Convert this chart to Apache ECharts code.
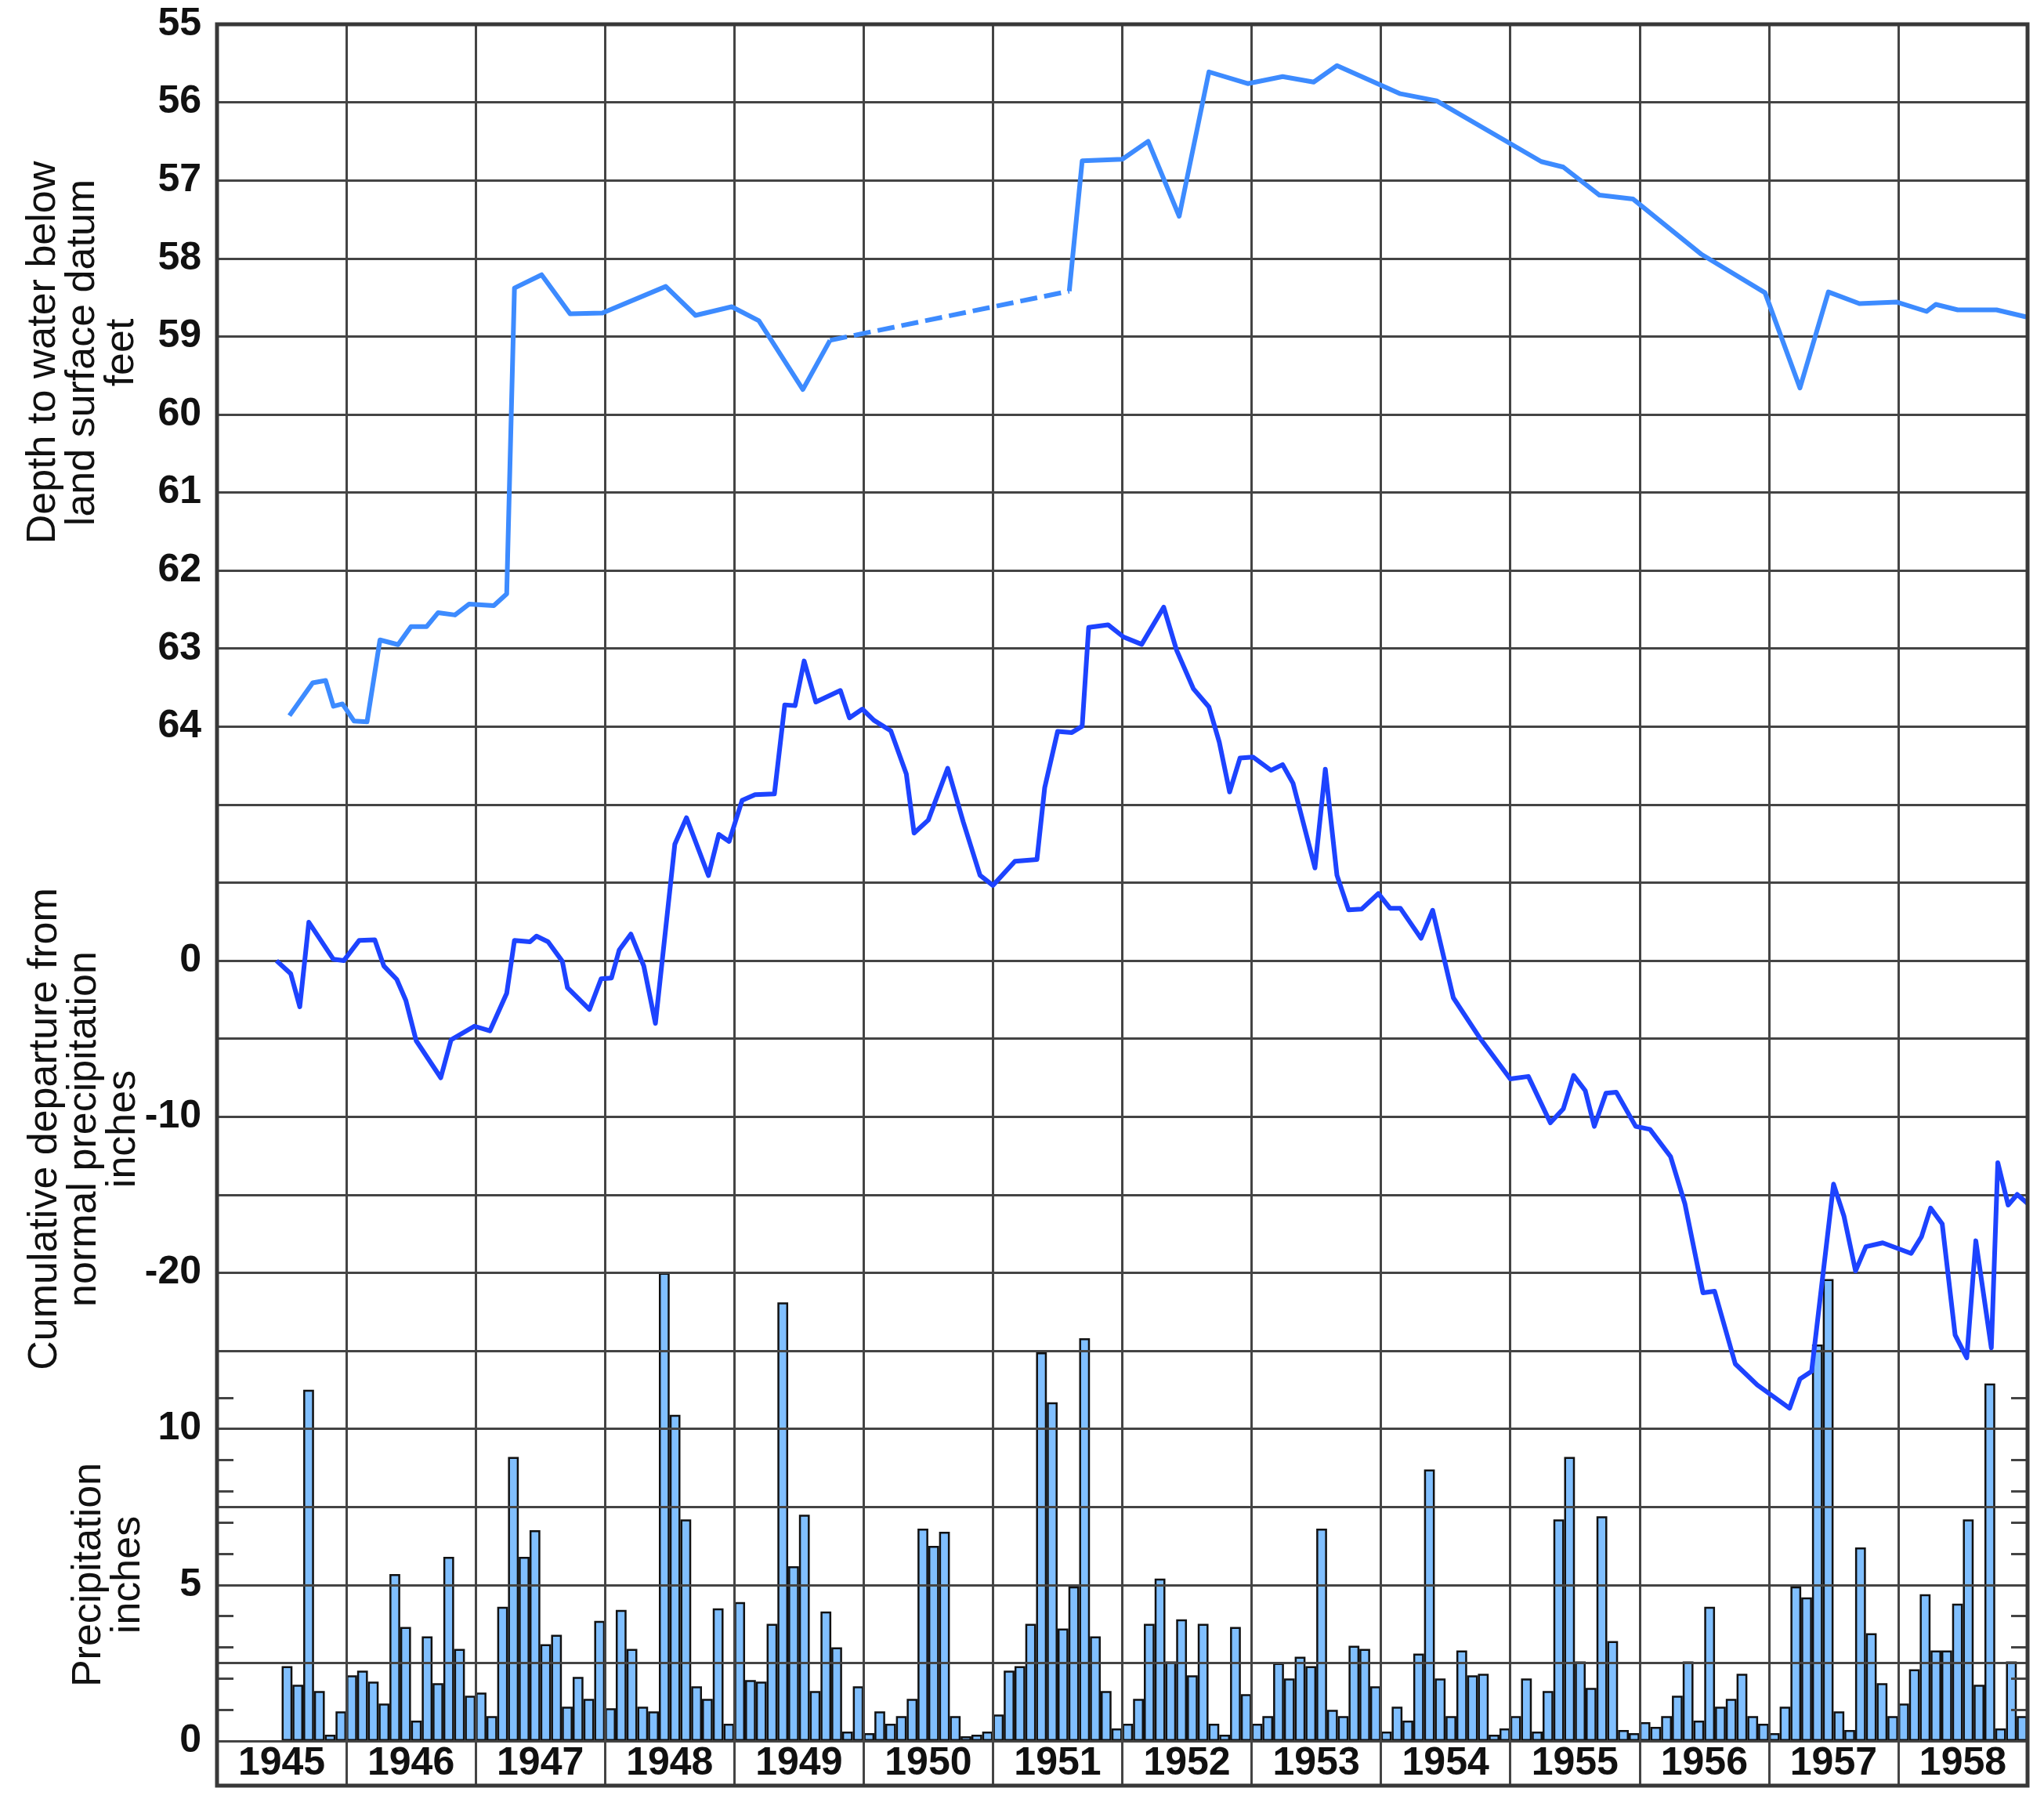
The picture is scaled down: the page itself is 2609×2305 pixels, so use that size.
<!DOCTYPE html>
<html>
<head>
<meta charset="utf-8">
<script src="https://cdn.jsdelivr.net/npm/echarts@6/dist/echarts.min.js"></script>
<style>
html,body{margin:0;padding:0;background:#fff;}
#chart{width:2609px;height:2305px;}
</style>
</head>
<body>
<div id="chart"></div>
<script>
// ---------- data ----------
const yearLabels = ['1945','1946','1947','1948','1949','1950','1951','1952','1953','1954','1955','1956','1957','1958'];
const depthTickLabels = [55,56,57,58,59,60,61,62,63,64];
const departureTickLabels = [0,-10,-20];
const precipTickLabels = [0,5,10];
const precipMinorTicks = [1,2,3,4,6,7,8,9,11];

// depth to water below land surface datum (feet), [decimal year, depth]
const depthMeasuredEarly = [
  [1945.56,63.86],[1945.74,63.44],[1945.84,63.41],[1945.90,63.74],[1945.97,63.71],[1946.06,63.93],
  [1946.16,63.94],[1946.26,62.89],[1946.40,62.95],[1946.50,62.72],[1946.62,62.72],[1946.71,62.54],
  [1946.84,62.57],[1946.95,62.43],[1947.14,62.45],[1947.24,62.30],[1947.30,58.38],[1947.51,58.21],
  [1947.73,58.71],[1947.98,58.70],[1948.47,58.36],[1948.70,58.73],[1948.98,58.62],[1949.19,58.80],
  [1949.53,59.68],[1949.74,59.05]
];
const depthEstimated = [[1949.74,59.05],[1951.59,58.42]];
const depthMeasuredLate = [
  [1951.59,58.42],[1951.69,56.75],[1952.00,56.73],[1952.20,56.50],[1952.44,57.46],[1952.67,55.61],
  [1952.97,55.76],[1953.24,55.67],[1953.48,55.74],[1953.66,55.53],[1954.15,55.89],[1954.43,55.98],
  [1955.24,56.76],[1955.41,56.83],[1955.69,57.19],[1955.95,57.24],[1956.48,57.95],[1956.97,58.44],
  [1957.24,59.66],[1957.46,58.43],[1957.70,58.58],[1957.99,58.56],[1958.22,58.68],[1958.29,58.59],
  [1958.46,58.66],[1958.76,58.66],[1958.99,58.75]
];

// cumulative departure from normal precipitation (inches), [decimal year, inches]
const cumulativeDeparture = [
  [1945.46,0.0],[1945.57,-0.84],[1945.64,-2.95],[1945.71,2.46],[1945.90,0.09],[1945.98,0.0],
  [1946.10,1.30],[1946.22,1.34],[1946.29,-0.34],[1946.39,-1.20],[1946.46,-2.54],[1946.54,-5.13],
  [1946.73,-7.5],[1946.81,-5.07],[1946.99,-4.2],[1947.11,-4.5],[1947.24,-2.09],[1947.30,1.30],
  [1947.42,1.21],[1947.47,1.57],[1947.56,1.21],[1947.67,-0.04],[1947.71,-1.73],[1947.88,-3.13],
  [1947.97,-1.16],[1948.05,-1.11],[1948.11,0.68],[1948.20,1.70],[1948.30,-0.34],[1948.39,-4.02],
  [1948.54,7.46],[1948.63,9.16],[1948.80,5.45],[1948.88,8.09],[1948.96,7.64],[1949.06,10.27],
  [1949.16,10.63],[1949.31,10.68],[1949.39,16.39],[1949.47,16.34],[1949.54,19.20],[1949.63,16.57],
  [1949.82,17.31],[1949.89,15.56],[1949.99,16.12],[1950.08,15.40],[1950.21,14.73],[1950.33,11.97],
  [1950.39,8.18],[1950.50,9.01],[1950.65,12.33],[1950.77,8.90],[1950.90,5.47],[1951.00,4.82],
  [1951.17,6.37],[1951.34,6.48],[1951.40,11.08],[1951.50,14.69],[1951.61,14.62],[1951.69,15.02],
  [1951.74,21.35],[1951.89,21.52],[1952.01,20.74],[1952.15,20.27],[1952.32,22.65],[1952.42,19.89],
  [1952.55,17.42],[1952.67,16.26],[1952.75,14.01],[1952.83,10.81],[1952.91,12.98],[1953.01,13.05],
  [1953.15,12.20],[1953.24,12.56],[1953.32,11.37],[1953.49,5.94],[1953.57,12.27],[1953.66,5.47],
  [1953.75,3.25],[1953.85,3.30],[1953.98,4.30],[1954.07,3.36],[1954.15,3.36],[1954.31,1.43],
  [1954.40,3.23],[1954.56,-2.38],[1954.76,-4.90],[1955.00,-7.58],[1955.14,-7.42],[1955.31,-10.39],
  [1955.41,-9.50],[1955.49,-7.36],[1955.58,-8.33],[1955.65,-10.62],[1955.74,-8.49],[1955.82,-8.43],
  [1955.97,-10.62],[1956.08,-10.81],[1956.24,-12.56],[1956.35,-15.56],[1956.49,-21.28],[1956.58,-21.18],
  [1956.74,-25.84],[1956.91,-27.19],[1957.16,-28.68],[1957.24,-26.80],[1957.33,-26.32],[1957.50,-14.32],
  [1957.58,-16.36],[1957.67,-19.88],[1957.75,-18.33],[1957.88,-18.08],[1958.10,-18.76],[1958.18,-17.69],
  [1958.25,-15.85],[1958.34,-16.86],[1958.44,-23.99],[1958.53,-25.45],[1958.60,-17.95],[1958.72,-24.81],
  [1958.77,-12.95],[1958.85,-15.66],[1958.92,-14.98],[1959.00,-15.56]
];

// monthly precipitation (inches), July 1945 through December 1958
const precip1945 = [2.4,1.8,11.25,1.6,0.2,0.95];
const precip1946 = [2.1,2.25,1.9,1.2,5.35,3.65,0.65,3.35,1.85,5.9,2.95,1.45];
const precip1947 = [1.55,0.8,4.3,9.1,5.9,6.75,3.1,3.4,1.1,2.05,1.35,3.85];
const precip1948 = [1.05,4.2,2.95,1.1,0.95,15.0,10.45,7.1,1.75,1.35,4.25,0.55];
const precip1949 = [4.45,1.95,1.9,3.75,14.05,5.6,7.25,1.6,4.15,3.0,0.3,1.75];
const precip1950 = [0.25,0.95,0.55,0.8,1.35,6.8,6.25,6.7,0.8,0.15,0.2,0.3];
const precip1951 = [0.85,2.25,2.4,3.75,12.45,10.85,3.6,4.95,12.9,3.35,1.6,0.4];
const precip1952 = [0.55,1.35,3.75,5.2,2.55,3.9,2.1,3.75,0.55,0.2,3.65,1.5];
const precip1953 = [0.55,0.8,2.5,2.0,2.7,2.4,6.8,1.0,0.8,3.05,2.95,1.75];
const precip1954 = [0.3,1.1,0.65,2.8,8.7,2.0,0.8,2.9,2.1,2.15,0.2,0.4];
const precip1955 = [0.8,2.0,0.3,1.6,7.1,9.1,2.55,1.7,7.2,3.2,0.35,0.25];
const precip1956 = [0.6,0.45,0.8,1.45,2.55,0.65,4.3,1.1,1.35,2.15,0.8,0.55];
const precip1957 = [0.25,1.1,4.95,4.6,12.7,14.8,0.95,0.35,6.2,3.45,1.85,0.8];
const precip1958 = [1.2,2.3,4.7,2.9,2.9,4.4,7.1,1.8,11.45,0.4,2.55,0.8];

// ---------- build ----------
const months = [];
yearLabels.forEach(y => { for (let m = 1; m <= 12; m++) months.push(y + '-' + m); });
const precipSeries = ['-','-','-','-','-','-'].concat(
  precip1945, precip1946, precip1947, precip1948, precip1949, precip1950, precip1951,
  precip1952, precip1953, precip1954, precip1955, precip1956, precip1957, precip1958);

const FONT = 'Liberation Sans, Arial, Helvetica, sans-serif';
const GRIDC = '#444444';
const tickLabel = { fontFamily: FONT, fontSize: 50, fontWeight: 'bold', color: '#111', margin: 20 };

const chart = echarts.init(document.getElementById('chart'), null, { width: 2609, height: 2305 });

const option = {
  backgroundColor: '#ffffff',
  animation: false,
  grid: [
    { left: 277, top: 31, width: 2311, height: 2191, show: false, outerBoundsMode: 'none', containLabel: false },
    { left: 277, top: 31, width: 2311, height: 2248, show: true, borderColor: '#383838', borderWidth: 5, z: 6,
      outerBoundsMode: 'none', containLabel: false }
  ],
  xAxis: [
    { gridIndex: 0, type: 'value', min: 1945, max: 1959, interval: 1, show: false },
    { gridIndex: 0, type: 'category', data: months, boundaryGap: true, show: false },
    { gridIndex: 1, type: 'value', min: 1945, max: 1959, interval: 1, z: 3,
      axisLine: { show: false }, axisTick: { show: false }, axisLabel: { show: false },
      splitLine: { show: true, lineStyle: { color: GRIDC, width: 3 } } },
    { gridIndex: 1, type: 'category', data: yearLabels, position: 'bottom', boundaryGap: true,
      axisLine: { show: false }, axisTick: { show: false }, splitLine: { show: false },
      axisLabel: { inside: true, margin: 28, verticalAlign: 'middle', fontFamily: FONT,
        fontSize: 50, fontWeight: 'bold', color: '#111', interval: 0 } }
  ],
  yAxis: [
    { gridIndex: 0, type: 'value', position: 'left', min: 55, max: 77, interval: 1, inverse: true, z: 3,
      axisLine: { show: false }, axisTick: { show: false },
      axisLabel: Object.assign({ customValues: depthTickLabels }, tickLabel),
      splitLine: { show: true, lineStyle: { color: GRIDC, width: 3 } } },
    { gridIndex: 0, type: 'value', position: 'left', min: -50, max: 60, interval: 5,
      axisLine: { show: false }, axisTick: { show: false }, splitLine: { show: false },
      axisLabel: Object.assign({ customValues: departureTickLabels }, tickLabel) },
    { gridIndex: 0, type: 'value', position: 'left', min: 0, max: 55, interval: 1, z: 3,
      axisLine: { show: false }, splitLine: { show: false },
      axisTick: { show: true, inside: true, length: 21, customValues: precipMinorTicks,
        lineStyle: { color: GRIDC, width: 3 } },
      axisLabel: Object.assign({ customValues: precipTickLabels }, tickLabel) },
    { gridIndex: 0, type: 'value', position: 'right', min: 0, max: 55, interval: 1, z: 3,
      axisLine: { show: false }, splitLine: { show: false }, axisLabel: { show: false },
      axisTick: { show: true, inside: true, length: 21, customValues: precipMinorTicks,
        lineStyle: { color: GRIDC, width: 3 } } },
    { gridIndex: 1, type: 'value', min: 0, max: 1, show: false }
  ],
  graphic: [
    { type: 'text', x: 106, y: 450, rotation: Math.PI / 2, z: 10,
      style: { text: 'Depth to water below\nland surface datum\nfeet', fontFamily: FONT, fontSize: 52,
        lineHeight: 50, fill: '#111', align: 'center', verticalAlign: 'middle' } },
    { type: 'text', x: 108, y: 1441, rotation: Math.PI / 2, z: 10,
      style: { text: 'Cumulative departure from\nnormal precipitation\ninches', fontFamily: FONT, fontSize: 52,
        lineHeight: 50, fill: '#111', align: 'center', verticalAlign: 'middle' } },
    { type: 'text', x: 139, y: 2010, rotation: Math.PI / 2, z: 10,
      style: { text: 'Precipitation\ninches', fontFamily: FONT, fontSize: 52,
        lineHeight: 50, fill: '#111', align: 'center', verticalAlign: 'middle' } }
  ],
  series: [
    { name: 'Precipitation', type: 'bar', xAxisIndex: 1, yAxisIndex: 2, data: precipSeries,
      barWidth: '100%', barCategoryGap: '0%', z: 2,
      itemStyle: { color: '#80bfff', borderColor: '#111', borderWidth: 2.5 } },
    { name: 'Depth', type: 'line', xAxisIndex: 0, yAxisIndex: 0, data: depthMeasuredEarly,
      symbol: 'none', z: 5, lineStyle: { color: '#3d8bff', width: 6, join: 'round' } },
    { name: 'Depth estimated', type: 'line', xAxisIndex: 0, yAxisIndex: 0, data: depthEstimated,
      symbol: 'none', z: 5, lineStyle: { color: '#3d8bff', width: 6, type: [22, 9] } },
    { name: 'Depth late', type: 'line', xAxisIndex: 0, yAxisIndex: 0, data: depthMeasuredLate,
      symbol: 'none', z: 5, lineStyle: { color: '#3d8bff', width: 6, join: 'round' } },
    { name: 'Cumulative departure', type: 'line', xAxisIndex: 0, yAxisIndex: 1, data: cumulativeDeparture,
      symbol: 'none', z: 5, lineStyle: { color: '#1d43ff', width: 6, join: 'round' } }
  ]
};
chart.setOption(option);
</script>
</body>
</html>
